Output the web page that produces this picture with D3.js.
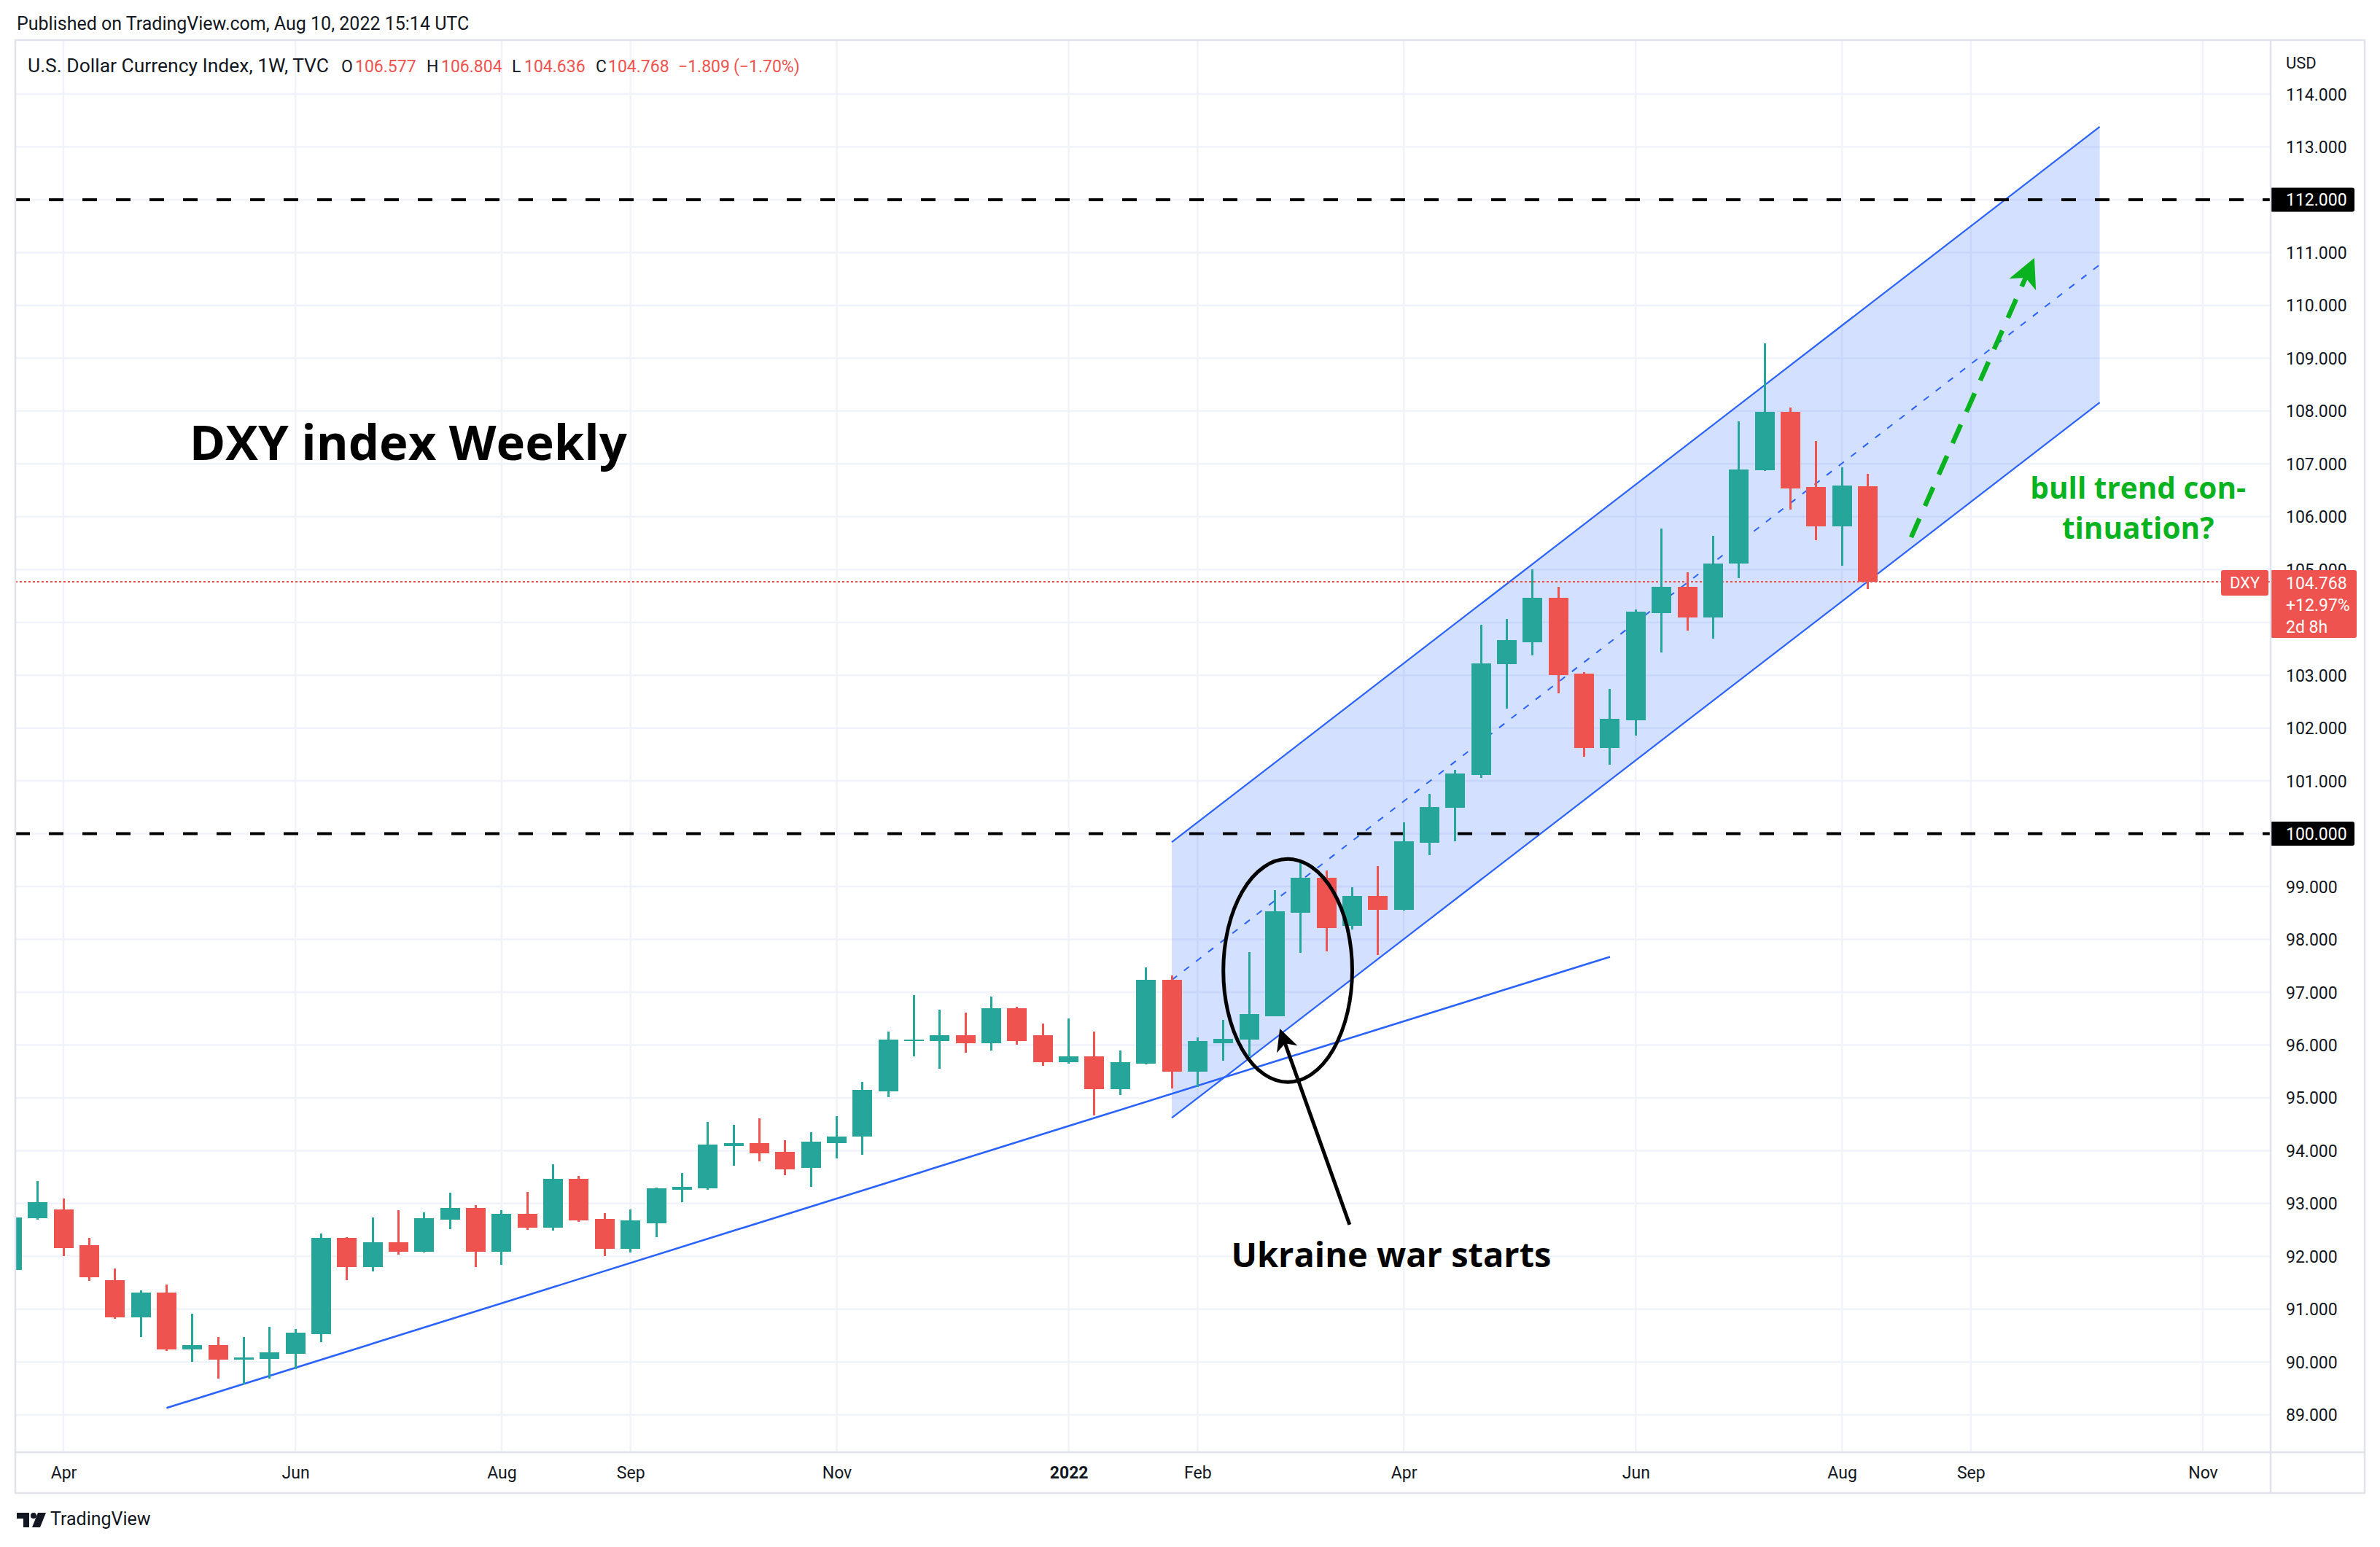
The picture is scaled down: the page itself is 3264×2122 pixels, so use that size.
<!DOCTYPE html>
<html><head><meta charset="utf-8">
<script src="https://cdn.jsdelivr.net/npm/d3@7"></script>
<style>
html,body{margin:0;padding:0;background:#fff;}
svg{display:block;}
</style></head><body>
<svg id="chart" width="3264" height="2122"></svg>
<script>
// ---------------- DATA ----------------
const weekDates = [
"2021-03-22","2021-03-29","2021-04-05","2021-04-12","2021-04-19","2021-04-26","2021-05-03","2021-05-10","2021-05-17","2021-05-24",
"2021-05-31","2021-06-07","2021-06-14","2021-06-21","2021-06-28","2021-07-05","2021-07-12","2021-07-19","2021-07-26","2021-08-02",
"2021-08-09","2021-08-16","2021-08-23","2021-08-30","2021-09-06","2021-09-13","2021-09-20","2021-09-27","2021-10-04","2021-10-11",
"2021-10-18","2021-10-25","2021-11-01","2021-11-08","2021-11-15","2021-11-22","2021-11-29","2021-12-06","2021-12-13","2021-12-20",
"2021-12-27","2022-01-03","2022-01-10","2022-01-17","2022-01-24","2022-01-31","2022-02-07","2022-02-14","2022-02-21","2022-02-28",
"2022-03-07","2022-03-14","2022-03-21","2022-03-28","2022-04-04","2022-04-11","2022-04-18","2022-04-25","2022-05-02","2022-05-09",
"2022-05-16","2022-05-23","2022-05-30","2022-06-06","2022-06-13","2022-06-20","2022-06-27","2022-07-04","2022-07-11","2022-07-18",
"2022-07-25","2022-08-01","2022-08-08"];
const opens = [
91.74,92.72,92.89,92.21,91.55,90.84,91.32,90.24,90.32,90.04,
90.06,90.16,90.53,92.35,91.80,92.26,92.09,92.69,92.92,92.09,
92.81,92.54,93.47,92.71,92.14,92.63,93.26,93.29,94.09,94.14,
93.98,93.67,94.14,94.27,95.12,96.07,96.07,96.18,96.04,96.70,
96.18,95.67,95.78,95.17,95.65,97.24,95.50,96.04,96.10,96.55,
98.51,99.17,98.25,98.82,98.56,99.83,100.49,101.11,103.21,103.63,
104.46,103.03,101.62,102.14,104.17,104.67,104.09,105.11,106.88,107.99,
106.56,105.82,106.577];
const highs = [
92.88,93.43,93.09,92.35,91.77,91.35,91.46,90.92,90.47,90.47,
90.66,90.63,92.43,92.37,92.74,92.87,92.83,93.21,92.97,92.87,
93.22,93.75,93.52,92.82,92.89,93.30,93.58,94.54,94.49,94.61,
94.20,94.35,94.66,95.30,96.26,96.95,96.67,96.61,96.92,96.73,
96.41,96.50,96.26,95.89,97.47,97.32,96.15,96.47,97.76,98.93,
99.45,99.30,98.99,99.39,100.22,100.76,101.21,103.95,104.06,105.01,
104.67,103.06,102.74,104.24,105.78,104.95,105.64,107.80,109.28,108.06,
107.43,106.93,106.804];
const lows = [
91.70,92.70,92.01,91.53,90.82,90.47,90.21,90.01,89.69,89.58,
89.69,89.87,90.38,91.55,91.72,92.03,92.07,92.51,91.80,91.84,
92.50,92.49,92.65,92.00,92.08,92.37,93.03,93.26,93.72,93.80,
93.54,93.32,93.86,93.92,95.01,95.78,95.55,95.86,95.89,96.01,
95.60,95.65,94.67,95.06,95.64,95.18,95.21,95.70,95.78,96.54,
97.74,97.77,98.19,97.71,98.54,99.60,99.86,101.05,102.37,103.37,
102.66,101.45,101.31,101.86,103.43,103.85,103.69,104.84,106.87,106.14,
105.56,105.07,104.636];
const closes = [
92.74,93.03,92.15,91.61,90.84,91.32,90.24,90.32,90.04,90.09,
90.18,90.55,92.35,91.80,92.26,92.09,92.72,92.92,92.09,92.80,
92.54,93.47,92.68,92.14,92.68,93.29,93.32,94.11,94.14,93.95,
93.64,94.17,94.27,95.15,96.10,96.10,96.18,96.04,96.70,96.07,
95.67,95.78,95.17,95.67,97.24,95.50,96.07,96.12,96.58,98.53,
99.17,98.22,98.82,98.56,99.85,100.51,101.14,103.23,103.66,104.46,
103.00,101.62,102.17,104.20,104.67,104.09,105.12,106.90,107.99,106.54,
105.82,106.59,104.768];

const priceTicks = [89,90,91,92,93,94,95,96,97,98,99,100,101,102,103,104,105,106,107,108,109,110,111,112,113,114];
const priceLabelsHidden = [104];   // covered by the last-price label in the reference
const timeTickDates = ["2021-04-05","2021-06-07","2021-08-02","2021-09-06","2021-11-01","2022-01-03","2022-02-07","2022-04-04","2022-06-06","2022-08-01","2022-09-05","2022-11-07"];
const timeTickLabels = ["Apr","Jun","Aug","Sep","Nov","2022","Feb","Apr","Jun","Aug","Sep","Nov"];
const levelPrices = [100, 112];
const lastPrice = 104.768;
const lastChange = "+12.97%";
const countdown = "2d 8h";

// drawings (anchored in date / price)
const channelDates = ["2022-01-31","2022-10-10"];
const channelLower = [94.62, 108.16];
const channelUpper = [99.84, 113.38];
const trendDates = ["2021-05-03","2022-05-30"];
const trendPrices = [89.13, 97.67];
const ellipseCenter = ["2022-03-03T12:00Z", 97.41];
const ellipseRadius = [17.5, 2.11];          // days, price
const warArrow = [["2022-03-20T07:00Z", 92.60], ["2022-03-01T08:00Z", 96.31]];
const bullArrow = [["2022-08-19T19:00Z", 105.61], ["2022-09-22T06:00Z", 110.90]];
const titleAnchor = ["2021-05-09T05:00Z", 107.07];
const warLabelAnchor = ["2022-03-31T14:00Z", 91.80];
const bullLabelAnchor = ["2022-10-20T10:00Z", 106.34, 105.58];

// ---------------- LAYOUT ----------------
const W = 3264, H = 2122;
const pane = {left: 21, top: 56, right: 3114, bottom: 1992, outerRight: 3243, axisBottom: 2048};
const UP = "#26a69a", DOWN = "#ef5350", BLUE = "#2962ff", TXT = "#131722", GRID = "#f0f3fa", GREEN = "#08b31f";
const UI = "Roboto, 'Noto Sans', sans-serif";
const ANN = "'Open Sans', 'Noto Sans', sans-serif";

const svg = d3.select("#chart");
const parse = s => new Date(s.length === 10 ? s + "T00:00:00Z" : s);

const x = d3.scaleUtc()
  .domain([parse("2021-04-05"), parse("2022-11-07")])
  .range([87, 3021]);
const y = d3.scaleLinear().domain([89, 114]).range([1940.75, 129]);

const candles = weekDates.map((d, i) => ({date: parse(d), o: opens[i], h: highs[i], l: lows[i], c: closes[i]}));

svg.append("rect").attr("width", W).attr("height", H).attr("fill", "#fff");

// header
svg.append("text").attr("x", 23).attr("y", 41)
  .attr("font-family", UI).attr("font-size", 25).attr("fill", TXT)
  .text("Published on TradingView.com, Aug 10, 2022 15:14 UTC");

const defs = svg.append("defs");
defs.append("clipPath").attr("id", "plotClip").append("rect")
  .attr("x", pane.left).attr("y", pane.top)
  .attr("width", pane.right - pane.left).attr("height", pane.bottom - pane.top);

const plot = svg.append("g").attr("clip-path", "url(#plotClip)");

// grid
plot.append("g").selectAll("line").data(priceTicks).join("line")
  .attr("x1", pane.left).attr("x2", pane.right)
  .attr("y1", d => y(d)).attr("y2", d => y(d))
  .attr("stroke", GRID).attr("stroke-width", 2.5);
plot.append("g").selectAll("line").data(timeTickDates).join("line")
  .attr("x1", d => x(parse(d))).attr("x2", d => x(parse(d)))
  .attr("y1", pane.top).attr("y2", pane.bottom)
  .attr("stroke", GRID).attr("stroke-width", 2.5);

// channel
const cx0 = x(parse(channelDates[0])), cx1 = x(parse(channelDates[1]));
plot.append("path")
  .attr("d", `M${cx0},${y(channelUpper[0])}L${cx1},${y(channelUpper[1])}L${cx1},${y(channelLower[1])}L${cx0},${y(channelLower[0])}Z`)
  .attr("fill", "rgba(41,98,255,0.2)");
[channelUpper, channelLower].forEach(p => {
  plot.append("line").attr("x1", cx0).attr("x2", cx1).attr("y1", y(p[0])).attr("y2", y(p[1]))
    .attr("stroke", BLUE).attr("stroke-width", 2.2);
});
plot.append("line").attr("x1", cx0).attr("x2", cx1)
  .attr("y1", y((channelUpper[0] + channelLower[0]) / 2)).attr("y2", y((channelUpper[1] + channelLower[1]) / 2))
  .attr("stroke", BLUE).attr("stroke-width", 2).attr("stroke-dasharray", "9,12");

// trendline
plot.append("line")
  .attr("x1", x(parse(trendDates[0]))).attr("y1", y(trendPrices[0]))
  .attr("x2", x(parse(trendDates[1]))).attr("y2", y(trendPrices[1]))
  .attr("stroke", BLUE).attr("stroke-width", 2.6);

// horizontal levels
plot.append("g").selectAll("line").data(levelPrices).join("line")
  .attr("x1", pane.left).attr("x2", pane.right)
  .attr("y1", d => y(d)).attr("y2", d => y(d))
  .attr("stroke", "#000").attr("stroke-width", 4).attr("stroke-dasharray", "20,26");

// last price dotted line
plot.append("line").attr("x1", pane.left).attr("x2", pane.right)
  .attr("y1", y(lastPrice)).attr("y2", y(lastPrice))
  .attr("stroke", DOWN).attr("stroke-width", 2).attr("stroke-dasharray", "3,3");

// candles
const bodyW = 27;
const cg = plot.append("g").attr("shape-rendering", "crispEdges");
cg.selectAll("line").data(candles).join("line")
  .attr("x1", d => x(d.date)).attr("x2", d => x(d.date))
  .attr("y1", d => y(d.h)).attr("y2", d => y(d.l))
  .attr("stroke", d => d.c >= d.o ? UP : DOWN).attr("stroke-width", 3);
cg.selectAll("rect").data(candles).join("rect")
  .attr("x", d => x(d.date) - bodyW / 2).attr("width", bodyW)
  .attr("y", d => y(Math.max(d.o, d.c)))
  .attr("height", d => Math.max(2, Math.abs(y(d.o) - y(d.c))))
  .attr("fill", d => d.c >= d.o ? UP : DOWN);

// annotations
const ann = plot.append("g");
function pt(a) { return [x(parse(a[0])), y(a[1])]; }
function head(tip, from, len, halfW, notch) {
  const dx = tip[0] - from[0], dy = tip[1] - from[1], L = Math.hypot(dx, dy);
  const ux = dx / L, uy = dy / L, px = -uy, py = ux;
  const bx = tip[0] - ux * len, by = tip[1] - uy * len;
  const nx = tip[0] - ux * len * notch, ny = tip[1] - uy * len * notch;
  return `M${tip[0]},${tip[1]}L${bx + px * halfW},${by + py * halfW}L${nx},${ny}L${bx - px * halfW},${by - py * halfW}Z`;
}
// ellipse
const ec = [x(parse(ellipseCenter[0])), y(ellipseCenter[1])];
const erx = x(new Date(parse(ellipseCenter[0]).getTime() + ellipseRadius[0] * 864e5)) - ec[0];
const ery = y(ellipseCenter[1] - ellipseRadius[1]) - ec[1];
ann.append("ellipse").attr("cx", ec[0]).attr("cy", ec[1]).attr("rx", erx).attr("ry", ery)
  .attr("fill", "none").attr("stroke", "#000").attr("stroke-width", 5);
// black arrow
const wa0 = pt(warArrow[0]), wa1 = pt(warArrow[1]);
{
  const L = Math.hypot(wa1[0] - wa0[0], wa1[1] - wa0[1]);
  const k = (L - 18) / L;
  ann.append("line").attr("x1", wa0[0]).attr("y1", wa0[1])
    .attr("x2", wa0[0] + (wa1[0] - wa0[0]) * k).attr("y2", wa0[1] + (wa1[1] - wa0[1]) * k)
    .attr("stroke", "#000").attr("stroke-width", 5);
  ann.append("path").attr("d", head(wa1, wa0, 30, 15, 0.72)).attr("fill", "#000");
}
// green dashed arrow
const ba0 = pt(bullArrow[0]), ba1 = pt(bullArrow[1]);
{
  const L = Math.hypot(ba1[0] - ba0[0], ba1[1] - ba0[1]);
  const k = (L - 30) / L;
  ann.append("line").attr("x1", ba0[0]).attr("y1", ba0[1])
    .attr("x2", ba0[0] + (ba1[0] - ba0[0]) * k).attr("y2", ba0[1] + (ba1[1] - ba0[1]) * k)
    .attr("stroke", GREEN).attr("stroke-width", 6.5).attr("stroke-dasharray", "28,19");
  ann.append("path").attr("d", head(ba1, ba0, 40, 20, 0.75)).attr("fill", GREEN);
}
// texts
ann.append("text").attr("x", x(parse(titleAnchor[0]))).attr("y", y(titleAnchor[1]))
  .attr("font-family", ANN).attr("font-weight", 700).attr("font-size", 67).attr("fill", "#000")
  .text("DXY index Weekly");
ann.append("text").attr("x", x(parse(warLabelAnchor[0]))).attr("y", y(warLabelAnchor[1]))
  .attr("text-anchor", "middle")
  .attr("font-family", ANN).attr("font-weight", 700).attr("font-size", 47).attr("fill", "#000")
  .text("Ukraine war starts");
const bx = x(parse(bullLabelAnchor[0]));
ann.append("text").attr("x", bx).attr("y", y(bullLabelAnchor[1]))
  .attr("text-anchor", "middle")
  .attr("font-family", ANN).attr("font-weight", 700).attr("font-size", 40.5).attr("fill", GREEN)
  .text("bull trend con-");
ann.append("text").attr("x", bx).attr("y", y(bullLabelAnchor[2]))
  .attr("text-anchor", "middle")
  .attr("font-family", ANN).attr("font-weight", 700).attr("font-size", 40.5).attr("fill", GREEN)
  .text("tinuation?");

// legend
const lg = svg.append("text").attr("y", 99).attr("font-family", UI).attr("font-size", 23).attr("fill", TXT);
lg.append("tspan").attr("x", 38).attr("font-size", 26).attr("textLength", 413).attr("lengthAdjust", "spacingAndGlyphs")
  .text("U.S. Dollar Currency Index, 1W, TVC");
const legendParts = [
  [468, "O", TXT], [487, "106.577", DOWN],
  [585, "H", TXT], [605, "106.804", DOWN],
  [702, "L", TXT], [719, "104.636", DOWN],
  [817, "C", TXT], [834, "104.768", DOWN],
  [930, "\u22121.809", DOWN], [1006, "(\u22121.70%)", DOWN]
];
legendParts.forEach(([px, t, col]) => lg.append("tspan").attr("x", px).attr("fill", col).text(t));

// price axis
const ly = y(lastPrice);
defs.append("clipPath").attr("id", "axisClip").append("path")
  .attr("clip-rule", "evenodd")
  .attr("d", `M3114,56H3243V1992H3114Z M3113,${ly - 16}H3232V${ly + 77}H3113Z`);
const pAxis = d3.axisRight(y).tickValues(priceTicks.filter(p => !priceLabelsHidden.includes(p)))
  .tickSize(0).tickPadding(0).tickFormat(d3.format(".3f"));
const pg = svg.append("g").attr("clip-path", "url(#axisClip)")
  .append("g").attr("transform", `translate(3135,0)`).call(pAxis);
pg.select(".domain").remove();
pg.selectAll("text").attr("font-family", UI).attr("font-size", 23).attr("fill", TXT).attr("dy", "0.35em");
svg.append("text").attr("x", 3135).attr("y", 86).attr("dy", "0.35em")
  .attr("font-family", UI).attr("font-size", 22).attr("fill", TXT).text("USD");

// level labels
levelPrices.forEach(p => {
  svg.append("rect").attr("x", 3113).attr("y", y(p) - 16.5).attr("width", 116).attr("height", 33)
    .attr("rx", 3).attr("fill", "#000");
  svg.append("text").attr("x", 3135).attr("y", y(p)).attr("dy", "0.35em")
    .attr("font-family", UI).attr("font-size", 23).attr("fill", "#fff").text(d3.format(".3f")(p));
});
// last price label
svg.append("rect").attr("x", 3113).attr("y", ly - 16).attr("width", 119).attr("height", 93)
  .attr("rx", 3).attr("fill", DOWN);
[[d3.format(".3f")(lastPrice), 0], [lastChange, 30], [countdown, 60]].forEach(([t, off]) => {
  svg.append("text").attr("x", 3135).attr("y", ly + 2 + off).attr("dy", "0.35em")
    .attr("font-family", UI).attr("font-size", 23).attr("fill", "#fff").text(t);
});
svg.append("rect").attr("x", 3046).attr("y", ly - 16).attr("width", 65).attr("height", 35)
  .attr("rx", 3).attr("fill", DOWN);
svg.append("text").attr("x", 3078.5).attr("y", ly + 1.5).attr("dy", "0.35em").attr("text-anchor", "middle")
  .attr("font-family", UI).attr("font-size", 22).attr("fill", "#fff").text("DXY");

// time axis
const tAxis = d3.axisBottom(x).tickValues(timeTickDates.map(parse)).tickSize(0).tickPadding(0)
  .tickFormat((d, i) => timeTickLabels[i]);
const tg = svg.append("g").attr("transform", `translate(0,2012)`).call(tAxis);
tg.select(".domain").remove();
tg.selectAll("text").attr("font-family", UI).attr("font-size", 23).attr("fill", TXT)
  .attr("font-weight", (d, i) => timeTickLabels[i] === "2022" ? 700 : 400);

// borders
const BORDER = "#e0e3eb";
const bl = svg.append("g").attr("stroke", BORDER).attr("stroke-width", 2.5).attr("fill", "none");
bl.append("rect").attr("x", pane.left).attr("y", pane.top - 1).attr("width", pane.outerRight - pane.left).attr("height", pane.axisBottom - pane.top + 1);
bl.append("line").attr("x1", pane.right).attr("x2", pane.right).attr("y1", pane.top).attr("y2", pane.axisBottom);
bl.append("line").attr("x1", pane.left).attr("x2", pane.outerRight).attr("y1", pane.bottom).attr("y2", pane.bottom);

// TradingView logo
const logo = svg.append("g").attr("fill", TXT);
logo.append("path").attr("d", "M23,2075h17v20h-8v-12h-9z");
logo.append("circle").attr("cx", 46).attr("cy", 2079).attr("r", 4);
logo.append("path").attr("d", "M52,2075h11l-8,20h-11z");
svg.append("text").attr("x", 69).attr("y", 2083).attr("dy", "0.35em")
  .attr("font-family", UI).attr("font-size", 25).attr("fill", TXT).text("TradingView");
</script>
</body></html>
